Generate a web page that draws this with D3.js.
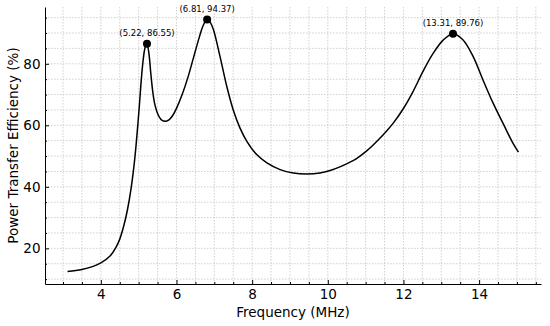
<!DOCTYPE html>
<html><head><meta charset="utf-8">
<script src="https://cdn.jsdelivr.net/npm/d3@7"></script>
<style>body{margin:0;background:#fff}svg{display:block}text{font-family:"DejaVu Sans",sans-serif;fill:#000}</style>
</head><body><svg id="c" width="550" height="326"></svg>
<script>
const freq = [3.12,3.5,4.0,4.25,4.4,4.5,4.6,4.7,4.8,4.9,5.0,5.1,5.17,5.22,5.27,5.32,5.37,5.42,5.48,5.55,5.62,5.7,5.8,5.9,6.0,6.15,6.3,6.45,6.6,6.7,6.81,6.9,6.98,7.15,7.33,7.50,7.68,7.86,8.12,8.39,8.74,9.09,9.44,9.79,10.06,10.32,10.55,10.76,11.02,11.2,11.37,11.55,11.73,11.99,12.25,12.52,12.78,13.05,13.31,13.57,13.84,14.10,14.37,14.63,14.89,15.04];
const eff = [12.5,13.1,15.3,17.6,20.3,23.0,27.0,32.3,39.5,49.5,63.5,79,85.3,86.55,83.5,77,71.2,67.2,64.5,62.6,61.6,61.3,61.8,63.2,65.5,70,75.5,82,88.5,92.3,94.37,93.3,91,82.4,72.6,65,59.1,54.8,50.5,47.8,45.6,44.5,44.2,44.5,45.3,46.5,47.8,49.2,51.6,53.6,55.7,58.1,60.7,65.3,70.9,77.6,83.3,87.7,89.76,87.8,82.4,74.8,67.2,60.7,54.3,51.3];
const peakF = [5.22,6.81,13.31];
const peakE = [86.55,94.37,89.76];
const xTicks = [4,6,8,10,12,14];
const yTicks = [20,40,60,80];
const xMinor = d3.range(3,15.6,0.5);
const yMinor = d3.range(10,98,5);

const svg = d3.select("#c");
const L=45,R=541,T=7,B=284;
const x = d3.scaleLinear().domain([2.524,15.636]).range([L,R]);
const y = d3.scaleLinear().domain([8.41,98.46]).range([B,T]);

const g = svg.append("g");
g.selectAll(".gx").data(xMinor).enter().append("line")
 .attr("x1",d=>x(d)).attr("x2",d=>x(d)).attr("y1",T).attr("y2",B)
 .attr("stroke","#c4c4c4").attr("stroke-width",0.8).attr("stroke-dasharray","1.5,1.5");
g.selectAll(".gy").data(yMinor).enter().append("line")
 .attr("y1",d=>y(d)).attr("y2",d=>y(d)).attr("x1",L).attr("x2",R)
 .attr("stroke","#c4c4c4").attr("stroke-width",0.8).attr("stroke-dasharray","1.5,1.5");

const xAxis = d3.axisBottom(x).tickValues(xTicks).tickSizeInner(-4).tickSizeOuter(0).tickPadding(5.5).tickFormat(d3.format("d"));
const yAxis = d3.axisLeft(y).tickValues(yTicks).tickSizeInner(-4).tickSizeOuter(0).tickPadding(4.5).tickFormat(d3.format("d"));
const xa = svg.append("g").attr("transform",`translate(0,${B})`).call(xAxis);
const ya = svg.append("g").attr("transform",`translate(${L},0)`).call(yAxis);
[xa,ya].forEach(a=>{a.selectAll("text").style("font-size","13.5px").attr("fill","#000");a.selectAll("line").attr("stroke","#000");a.select(".domain").attr("stroke","#000").attr("stroke-width",1);});
const xm = d3.axisBottom(x).tickValues(xMinor.filter(d=>d%2!==0)).tickSize(-2).tickFormat("");
const ym = d3.axisLeft(y).tickValues(yMinor.filter(d=>d%20!==0)).tickSize(-2).tickFormat("");
svg.append("g").attr("transform",`translate(0,${B})`).call(xm).call(s=>s.select(".domain").remove()).selectAll("line").attr("stroke","#000");
svg.append("g").attr("transform",`translate(${L},0)`).call(ym).call(s=>s.select(".domain").remove()).selectAll("line").attr("stroke","#000");

svg.append("text").attr("x",(L+R)/2).attr("y",316.5).attr("text-anchor","middle").style("font-size","13.5px").text("Frequency (MHz)");
svg.append("text").attr("transform",`translate(17.5,${(T+B)/2}) rotate(-90)`).attr("text-anchor","middle").style("font-size","13.5px").text("Power Transfer Efficiency (%)");

const pts = freq.map((f,i)=>[f,eff[i]]);
svg.append("path").datum(pts).attr("fill","none").attr("stroke","#000").attr("stroke-width",1.5)
 .attr("d",d3.line().x(d=>x(d[0])).y(d=>y(d[1])).curve(d3.curveCatmullRom.alpha(0.5)));

const pk = peakF.map((f,i)=>[f,peakE[i]]);
svg.selectAll(".pk").data(pk).enter().append("circle")
 .attr("cx",d=>x(d[0])).attr("cy",d=>y(d[1])).attr("r",4).attr("fill","#000");
svg.selectAll(".pl").data(pk).enter().append("text")
 .attr("x",d=>x(d[0])).attr("y",d=>y(d[1])-8).attr("text-anchor","middle").style("font-size","8.5px")
 .text(d=>`(${d[0].toFixed(2)}, ${d[1].toFixed(2)})`);
</script></body></html>
